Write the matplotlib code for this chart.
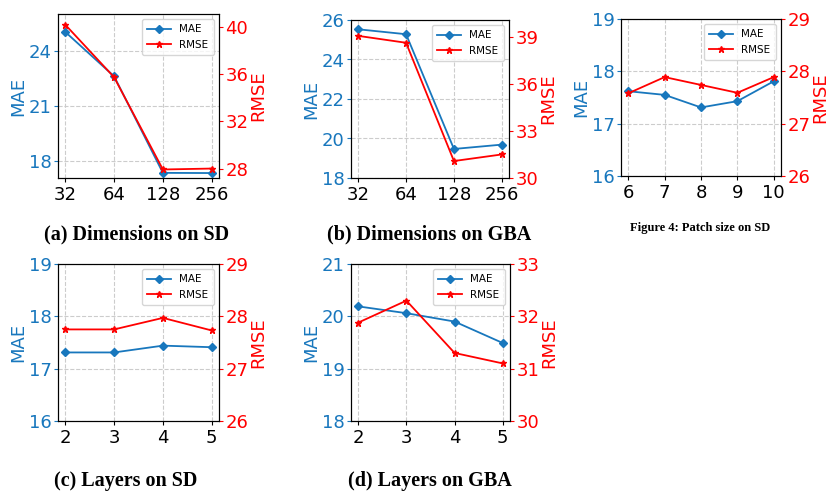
import matplotlib
matplotlib.use('Agg')
import matplotlib.pyplot as plt

W, H = 829, 498
BLUE = '#1877bd'
RED = 'red'

# (a) Dimensions on SD
dims = ['32', '64', '128', '256']
dim_sd_mae = [25.04, 22.62, 17.35, 17.34]
dim_sd_rmse = [40.17, 35.73, 27.92, 28.0]

# (b) Dimensions on GBA
dim_gba_mae = [25.53, 25.28, 19.47, 19.69]
dim_gba_rmse = [39.05, 38.61, 31.08, 31.5]

# Figure 4: patch size on SD
patch = ['6', '7', '8', '9', '10']
patch_mae = [17.62, 17.55, 17.31, 17.43, 17.81]
patch_rmse = [27.58, 27.89, 27.74, 27.59, 27.89]

# (c) Layers on SD, (d) Layers on GBA
layers = ['2', '3', '4', '5']
lay_sd_mae = [17.31, 17.31, 17.44, 17.41]
lay_sd_rmse = [27.75, 27.75, 27.97, 27.73]
lay_gba_mae = [20.19, 20.06, 19.90, 19.49]
lay_gba_rmse = [31.88, 32.30, 31.30, 31.10]

panels = [
    # (pixel box left, top, right, bottom), x labels, mae, rmse, mae lim, mae ticks, rmse lim, rmse ticks
    ((58, 14, 219, 178), dims, dim_sd_mae, dim_sd_rmse,
     (17.07, 26.02), [18, 21, 24], (27.2, 41.08), [28, 32, 36, 40]),
    ((351, 20, 509, 178), dims, dim_gba_mae, dim_gba_rmse,
     (18, 26), [18, 20, 22, 24, 26], (30, 40.06), [30, 33, 36, 39]),
    ((621, 19, 781, 176), patch, patch_mae, patch_rmse,
     (16, 19), [16, 17, 18, 19], (26, 29), [26, 27, 28, 29]),
    ((58, 264, 219, 421), layers, lay_sd_mae, lay_sd_rmse,
     (16, 19), [16, 17, 18, 19], (26, 29), [26, 27, 28, 29]),
    ((351, 264, 510, 421), layers, lay_gba_mae, lay_gba_rmse,
     (18, 21), [18, 19, 20, 21], (30, 33), [30, 31, 32, 33]),
]

fig = plt.figure(figsize=(W / 100, H / 100), dpi=100)

for box, xl, mae, rmse, mlim, mticks, rlim, rticks in panels:
    l, t, r, b = box
    ax = fig.add_axes([l / W, (H - b) / H, (r - l) / W, (b - t) / H])
    x = list(range(len(xl)))
    l1, = ax.plot(x, mae, color=BLUE, marker='D', markersize=4, linewidth=1.3, label='MAE')
    ax.set_ylim(*mlim)
    ax.set_yticks(mticks)
    ax.set_xticks(x)
    ax.set_xticklabels(xl)
    ax.tick_params(axis='y', colors=BLUE, labelsize=13, length=3, pad=1.5)
    ax.tick_params(axis='x', labelsize=13, length=3, pad=2.5)
    ax.set_ylabel('MAE', color=BLUE, fontsize=13, labelpad=1)
    ax.grid(True, linestyle='--', color='#cccccc', linewidth=0.8)

    ax2 = ax.twinx()
    l2, = ax2.plot(x, rmse, color=RED, marker='*', markersize=4.5, linewidth=1.3, label='RMSE')
    ax2.set_ylim(*rlim)
    ax2.set_yticks(rticks)
    ax2.tick_params(axis='y', colors=RED, labelsize=13, length=3, pad=1.5)
    ax2.set_ylabel('RMSE', color=RED, fontsize=13, labelpad=1)

    ax2.legend([l1, l2], ['MAE', 'RMSE'], loc='upper right', fontsize=7.5,
               handlelength=2.3, borderpad=0.5, labelspacing=0.5)

cap = dict(family=['Liberation Serif', 'DejaVu Serif'], fontweight='bold',
           ha='center', va='center')
fig.text(137 / W, 1 - 234 / H, '(a) Dimensions on SD', fontsize=14.5, **cap)
fig.text(429 / W, 1 - 234 / H, '(b) Dimensions on GBA', fontsize=14.5, **cap)
fig.text(700 / W, 1 - 228 / H, 'Figure 4: Patch size on SD', fontsize=9, **cap)
fig.text(126 / W, 1 - 481 / H, '(c) Layers on SD', fontsize=14.5, **cap)
fig.text(430 / W, 1 - 481 / H, '(d) Layers on GBA', fontsize=14.5, **cap)

fig.savefig('out.png', dpi=100)
